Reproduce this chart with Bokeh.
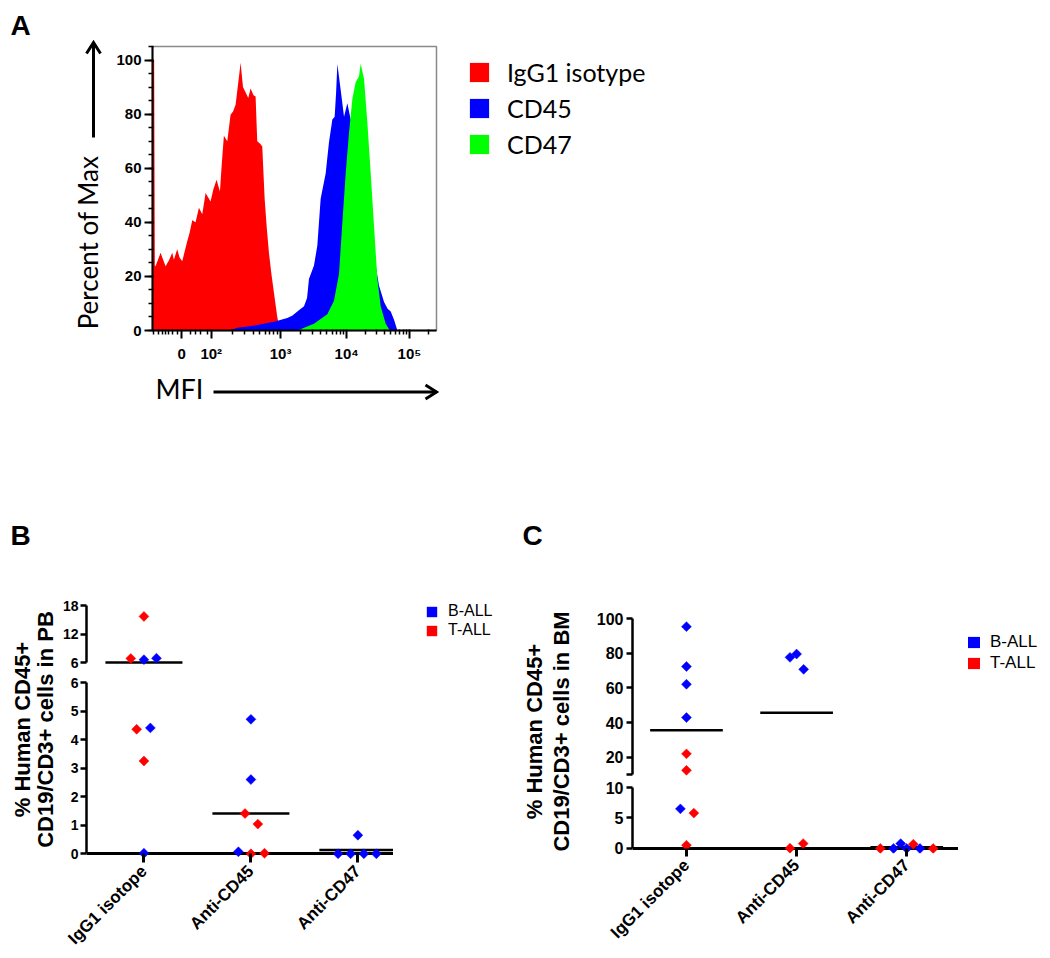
import numpy as np
from math import pi
from bokeh.plotting import figure
from bokeh.layouts import column, row
from bokeh.models import (Range1d, FixedTicker, SingleIntervalTicker, Legend, LegendItem,
                          ColumnDataSource, Spacer)
from bokeh.embed import file_html
from bokeh.resources import INLINE
from bokeh.core.properties import value

SANS = "Liberation Sans"
CAL = "Lato"
RED = "#ff0000"
BLUE = "#0000ff"
GREEN = "#00ff00"

# ---------------- Panel A: flow histograms (x in logicle display units) ----------------
isotype_x = [1.061, 1.085, 1.095, 1.106, 1.182, 1.258, 1.31, 1.359, 1.384, 1.434, 1.47, 1.510,
             1.586, 1.62, 1.662, 1.712, 1.763, 1.813, 1.864, 1.939, 1.98, 2.030, 2.081, 2.11,
             2.141, 2.192, 2.242, 2.28, 2.318, 2.36, 2.394, 2.43, 2.470, 2.51, 2.545, 2.59,
             2.621, 2.646, 2.69, 2.722, 2.758, 2.79, 2.823, 2.86, 2.899, 2.949, 2.990]
isotype_y = [100, 100, 24, 23.8, 28.7, 23.8, 26, 28.7, 26.2, 30, 27, 25.6,
             33, 36, 40.8, 40, 45.4, 43, 50.8, 47.7, 52, 55.7, 51.4, 62,
             72, 70, 79.8, 81, 83.5, 92, 99, 90, 88, 86, 89.5, 87,
             86.5, 70, 69, 68, 48.7, 38, 28.7, 21, 14, 5, 0]

cd45_x = [2.217, 2.344, 2.50, 2.646, 2.899, 3.101, 3.18, 3.253, 3.354, 3.40, 3.429, 3.505,
          3.556, 3.606, 3.682, 3.732, 3.783, 3.818, 3.840, 3.859, 3.909, 3.960, 4.010, 4.061,
          4.162, 4.263, 4.364, 4.439, 4.490, 4.566, 4.62, 4.667, 4.717, 4.768]
cd45_y = [0, 1, 1.5, 2, 3.2, 4.6, 5.5, 7, 9, 12, 19, 24,
          31.5, 48.7, 58, 69.6, 78, 79, 88, 98.5, 89, 79, 84, 78,
          70, 55, 38, 24, 16.5, 10.5, 8, 7, 4, 0]

cd47_x = [3.253, 3.505, 3.707, 3.808, 3.884, 3.934, 3.985, 4.035, 4.086, 4.136, 4.187,
          4.212, 4.263, 4.313, 4.364, 4.414, 4.465, 4.515, 4.591, 4.641, 4.667]
cd47_y = [0, 2.5, 6, 11, 21, 39.7, 58, 73, 85.6, 91.8, 94,
          98.6, 93, 77, 58, 38.6, 19, 9, 2.5, 0.5, 0]

a_ticks = [1.5, 1.95, 3.0, 4.0, 4.95]
a_tick_labels = ["0", "10²", "10³", "10⁴", "10⁵"]
a_series = ["IgG1 isotype", "CD45", "CD47"]
a_ylabel = "Percent of Max"
a_xlabel = "MFI"

# ---------------- Panels B / C: scatter data ----------------
categories = ["IgG1 isotope", "Anti-CD45", "Anti-CD47"]

pb_group = [0] * 8 + [1] * 7 + [2] * 5
pb_value = [15.7, 6.84, 6.6, 6.9, 4.36, 4.41, 3.25, 0.02,
            4.71, 2.6, 1.41, 1.04, 0.07, 0.0, 0.02,
            0.65, 0.0, 0.0, 0.0, 0.0]
pb_type = ["T-ALL", "T-ALL", "B-ALL", "B-ALL", "T-ALL", "B-ALL", "T-ALL", "B-ALL",
           "B-ALL", "B-ALL", "T-ALL", "T-ALL", "B-ALL", "T-ALL", "T-ALL",
           "B-ALL", "B-ALL", "B-ALL", "B-ALL", "B-ALL"]
pb_jitter = [0, -0.123, 0, 0.117, -0.068, 0.06, 0, 0,
             0, 0, -0.055, 0.065, -0.117, 0, 0.127,
             0, -0.185, -0.068, 0.056, 0.173]

bm_group = [0] * 9 + [1] * 5 + [2] * 7
bm_value = [95.3, 72.3, 62.1, 42.9, 22.0, 12.5, 6.5, 5.8, 0.54,
            77.6, 79.5, 70.7, 0.05, 0.8,
            0.0, 0.0, 0.8, 0.0, 0.7, 0.0, 0.0]
bm_type = ["B-ALL", "B-ALL", "B-ALL", "B-ALL", "T-ALL", "T-ALL", "B-ALL", "T-ALL", "T-ALL",
           "B-ALL", "B-ALL", "B-ALL", "T-ALL", "T-ALL",
           "T-ALL", "B-ALL", "B-ALL", "B-ALL", "T-ALL", "B-ALL", "T-ALL"]
bm_jitter = [0, 0, 0, 0, 0, 0, -0.055, 0.067, 0,
             -0.06, 0, 0.064, -0.06, 0.06,
             -0.24, -0.12, -0.055, 0, 0.06, 0.12, 0.24]

ylabel_pb = ["% Human CD45+", "CD19/CD3+ cells in PB"]
ylabel_bm = ["% Human CD45+", "CD19/CD3+ cells in BM"]
leukemia_types = ["B-ALL", "T-ALL"]


def clean(p):
    p.grid.visible = False
    p.outline_line_color = None
    p.background_fill_color = "white"
    p.border_fill_color = "white"


def style_axis(ax, size, standoff, lw=2.5, tick_out=6):
    ax.axis_line_color = "black"
    ax.axis_line_width = lw
    ax.major_tick_line_width = lw
    ax.major_tick_line_color = "black"
    ax.major_tick_out = tick_out
    ax.major_tick_in = 0
    ax.minor_tick_line_color = None
    ax.major_label_text_font = SANS
    ax.major_label_text_font_style = "bold"
    ax.major_label_text_font_size = size
    ax.major_label_text_color = "black"
    ax.major_label_standoff = standoff


def canvas_fig(x0, x1, y0, y1):
    """A plain figure whose data space equals page pixels (y negated)."""
    p = figure(width=x1 - x0, height=y1 - y0, x_range=Range1d(x0, x1), y_range=Range1d(-y1, -y0),
               min_border=0, x_axis_location=None, y_axis_location=None,
               output_backend="svg", toolbar_location=None, tools="")
    clean(p)
    return p


def add_text(p, xs, ys, texts, size, font=SANS, style="bold", angle=0.0, align="center"):
    p.text(x=xs, y=[-y for y in ys], text=texts, angle=angle, text_font=value(font),
           text_font_style=style, text_font_size=size, text_align=align,
           text_baseline="middle", text_color="black")


def add_arrow(p, x0, y0, x1, y1, head=11, half=7):
    p.segment(x0=[x0], y0=[-y0], x1=[x1], y1=[-y1], line_color="black", line_width=3)
    if y0 == y1:   # horizontal, pointing right
        hx = [x1 - head, x1, x1 - head]
        hy = [-(y1 - half), -y1, -(y1 + half)]
    else:          # vertical, pointing up
        hx = [x1 - half, x1, x1 + half]
        hy = [-(y1 + head), -y1, -(y1 + head)]
    p.line(x=hx, y=hy, line_color="black", line_width=3, line_join="miter")


def add_legend(p, labels, colors, loc, gw, gh, sp, so, fs, font):
    nan = np.array([np.nan])
    items = []
    for lab, col in zip(labels, colors):
        r = p.quad(left=nan, right=nan, top=nan, bottom=nan, fill_color=col, line_color=None)
        items.append(LegendItem(label=lab, renderers=[r]))
    lg = Legend(items=items, location=loc, glyph_width=gw, glyph_height=gh, spacing=sp,
                label_standoff=so, padding=0, margin=0, border_line_color=None,
                background_fill_alpha=0, label_text_font=font, label_text_font_size=fs,
                label_text_color="black", label_height=gh)
    p.add_layout(lg)


# ---------------- Figure A ----------------
A_X0, A_X1, A_Y0, A_Y1 = 1.06, 5.36, 0, 105

labA = canvas_fig(8, 110, 8, 500)
add_text(labA, [20], [25], ["A"], "28px")
add_text(labA, [87.5], [242], [a_ylabel], "26px", font=CAL, style="normal", angle=pi / 2)
add_arrow(labA, 93, 137, 93, 42)

pA = figure(width=328, height=357, min_border_left=42, min_border_right=2,
            min_border_top=38, min_border_bottom=35,
            x_range=Range1d(A_X0, A_X1), y_range=Range1d(A_Y0, A_Y1),
            output_backend="svg", toolbar_location=None, tools="")
clean(pA)
pA.outline_line_color = "#8a8a8a"
pA.outline_line_width = 1.5

pA.varea(x=isotype_x, y1=0, y2=isotype_y, fill_color=RED)
pA.varea(x=cd45_x, y1=0, y2=cd45_y, fill_color=BLUE)
pA.varea(x=cd47_x, y1=0, y2=cd47_y, fill_color=GREEN)

a_minor = [1.08, 1.155, 1.207, 1.257, 1.307, 1.358, 1.434, 1.636, 1.712, 1.787, 1.889]
for lo, hi in [(1.95, 3.0), (3.0, 4.0), (4.0, 4.95)]:
    a_minor += [lo + (hi - lo) * float(np.log10(k)) for k in range(2, 10)]
a_minor.append(4.95 + 0.95 * float(np.log10(2)))

xa = pA.xaxis[0]
xa.ticker = FixedTicker(ticks=a_ticks, minor_ticks=a_minor)
xa.major_label_overrides = {t: s for t, s in zip(a_ticks, a_tick_labels)}
ya = pA.yaxis[0]
ya.ticker = SingleIntervalTicker(interval=20, num_minor_ticks=4)
for ax in (xa, ya):
    style_axis(ax, "15px", 4, lw=2, tick_out=8)
    ax.major_tick_in = 1
    ax.minor_tick_line_color = "black"
    ax.minor_tick_line_width = 1.5
    ax.minor_tick_out = 4
    ax.minor_tick_in = 1
ya.major_label_standoff = 3
xa.major_label_standoff = 6

legA = canvas_fig(438, 1042, 8, 365)
add_legend(legA, a_series, [RED, BLUE, GREEN], (29, 171), 24, 24, 6, 16, "25px", CAL)

mfiA = canvas_fig(110, 1042, 365, 500)
add_text(mfiA, [155], [388], [a_xlabel], "27px", font=CAL, style="normal", align="left")
add_arrow(mfiA, 213, 391.5, 436, 391.5)


# ---------------- Scatter panels with broken axis ----------------
def build(groups, vals, kinds, jitter, brk, xr, w, left, up, low, tick_size, cat_size, half):
    g = np.array(groups, dtype=float)
    v = np.array(vals, dtype=float)
    k = np.array(kinds)
    j = np.array(jitter, dtype=float)
    colors = np.where(k == leukemia_types[0], BLUE, RED)
    xs = g + j
    means = np.array([v[g == i].mean() for i in range(3)])
    cx = np.arange(3, dtype=float)

    figs = []
    for cfg, is_up in ((up, True), (low, False)):
        if is_up:
            p = figure(width=w, height=cfg["h"], min_border_left=left, min_border_right=0,
                       min_border_top=cfg["top"], min_border_bottom=cfg["bottom"],
                       x_range=xr, y_range=Range1d(*cfg["range"]), x_axis_location=None,
                       output_backend="svg", toolbar_location=None, tools="")
        else:
            p = figure(width=w, frame_height=cfg["fh"], min_border_left=left, min_border_right=0,
                       min_border_top=cfg["top"], min_border_bottom=cfg["bottom"],
                       x_range=xr, y_range=Range1d(*cfg["range"]),
                       output_backend="svg", toolbar_location=None, tools="")
        clean(p)
        if not is_up:
            # x axis baseline at y = 0
            p.hspan(y=[0], line_color="black", line_width=3)
        m = v > brk if is_up else v <= brk
        mm = means > brk if is_up else means <= brk
        p.segment(x0=(cx - half)[mm], x1=(cx + half)[mm], y0=means[mm], y1=means[mm],
                  line_color="black", line_width=2.5)
        src = ColumnDataSource(dict(x=xs[m], y=v[m], c=colors[m]))
        p.scatter("x", "y", source=src, marker="square", angle=pi / 4, size=7,
                  fill_color="c", line_color="c", line_width=0.5)
        yaxis = p.yaxis[0]
        yaxis.ticker = FixedTicker(ticks=cfg["ticks"])
        yaxis.bounds = cfg["bounds"]
        if cfg.get("over"):
            yaxis.major_label_overrides = cfg["over"]
        style_axis(yaxis, tick_size, cfg["std"])
        if not is_up:
            xaxis = p.xaxis[0]
            xaxis.ticker = FixedTicker(ticks=[0, 1, 2])
            xaxis.major_label_overrides = {i: c for i, c in enumerate(categories)}
            style_axis(xaxis, cat_size, 6, lw=3, tick_out=3)
            xaxis.axis_line_color = None
            xaxis.major_tick_in = cfg["tick_in"]
            xaxis.major_label_orientation = pi / 4
        figs.append(p)
    return figs


pBu, pBl = build(pb_group, pb_value, pb_type, pb_jitter, 6.0, Range1d(-0.537, 2.333), 334, 24,
                 up=dict(h=173, top=105, bottom=8, range=(5.37, 18), ticks=[6, 12, 18],
                         bounds=(6, 18), std=2),
                 low=dict(fh=177, top=9, bottom=97, range=(-0.2, 6),
                          ticks=[0, 1, 2, 3, 4, 5, 6], bounds=(0, 6), tick_in=6, std=2),
                 tick_size="14px", cat_size="17px", half=0.36)

pCu, pCl = build(bm_group, bm_value, bm_type, bm_jitter, 10.0, Range1d(-0.49, 2.47), 368, 42,
                 up=dict(h=278, top=118, bottom=0, range=(7.78, 100),
                         ticks=[10, 20, 40, 60, 80, 100], bounds=(10, 100), over={10: ""}, std=3),
                 low=dict(fh=66, top=9, bottom=103, range=(-0.82, 10), ticks=[0, 5, 10],
                          bounds=(0, 10), tick_in=5, std=3),
                 tick_size="16px", cat_size="17px", half=0.33)

labB = canvas_fig(8, 59, 500, 956)
add_text(labB, [20], [535], ["B"], "28px")
add_text(labB, [21.5, 45], [729, 729], ylabel_pb, "22px", angle=pi / 2)

legB = canvas_fig(393, 520, 500, 956)
add_legend(legB, leukemia_types, [BLUE, RED], (32, 317), 13, 13, 1, 10, "16px", SANS)

labC = canvas_fig(520, 590, 500, 956)
add_text(labC, [532], [535], ["C"], "28px")
add_text(labC, [534, 561], [731, 731], ylabel_bm, "22px", angle=pi / 2)

legC = canvas_fig(958, 1042, 500, 956)
add_legend(legC, leukemia_types, [BLUE, RED], (8, 283), 15, 14, 1, 9, "17px", SANS)

top = row(labA, column(row(pA, legA), mfiA))
bottom = row(labB, column(pBu, pBl), legB, labC, column(pCu, pCl), legC)
layout = row(Spacer(width=8), column(Spacer(height=8), top, bottom))
open("out.html", "w").write(file_html(layout, INLINE))
